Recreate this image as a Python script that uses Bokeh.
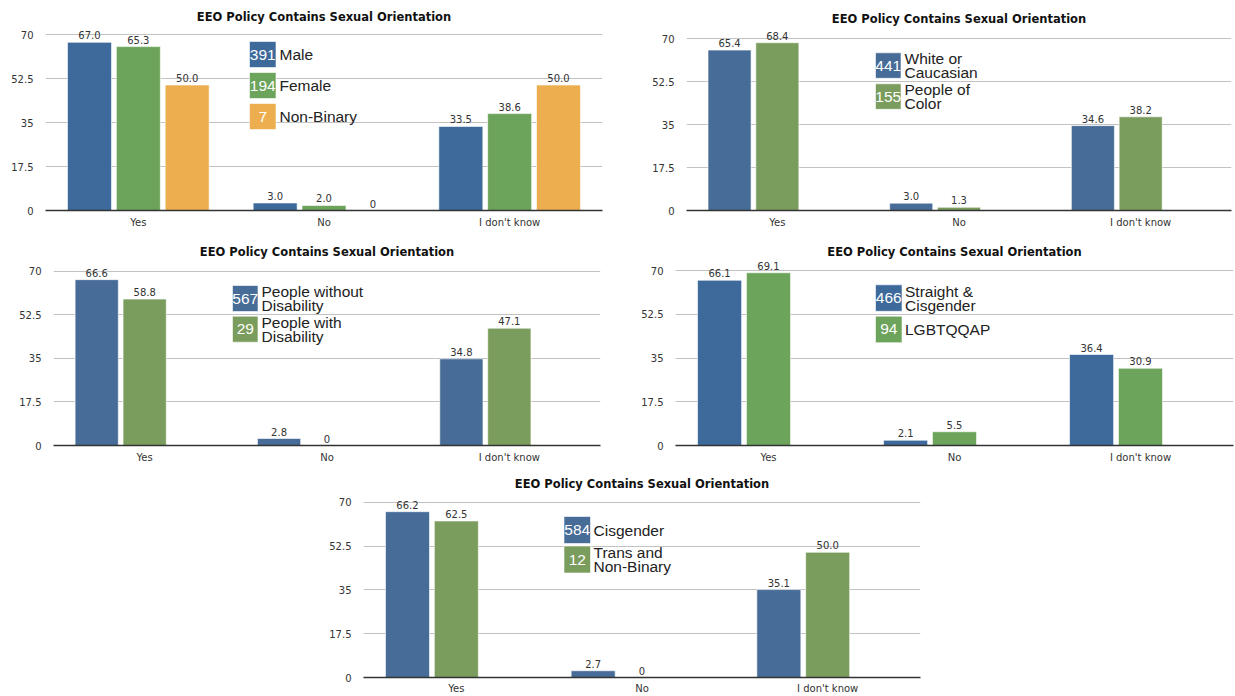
from bokeh.plotting import figure
from bokeh.models import ColumnDataSource, FactorRange, Range1d, FixedTicker, LabelSet, Spacer
from bokeh.layouts import row, column
from bokeh.transform import dodge
from bokeh.core.properties import value
from bokeh.embed import file_html
from bokeh.resources import INLINE

# ---------------- data ----------------
categories = ["Yes", "No", "I don't know"]
y_ticks = [0, 17.5, 35, 52.5, 70]
y_tick_labels = ["0", "17.5", "35", "52.5", "70"]
title_text = "EEO Policy Contains Sexual Orientation"

gender_groups = ["Male", "Female", "Non-Binary"]
gender_counts = [391, 194, 7]
male_values = [67.0, 3.0, 33.5]
female_values = [65.3, 2.0, 38.6]
nonbinary_values = [50.0, 0, 50.0]

race_groups = ["White or\nCaucasian", "People of\nColor"]
race_counts = [441, 155]
white_values = [65.4, 3.0, 34.6]
poc_values = [68.4, 1.3, 38.2]

disability_groups = ["People without\nDisability", "People with\nDisability"]
disability_counts = [567, 29]
without_disability_values = [66.6, 2.8, 34.8]
with_disability_values = [58.8, 0, 47.1]

orientation_groups = ["Straight &\nCisgender", "LGBTQQAP"]
orientation_counts = [466, 94]
straight_cis_values = [66.1, 2.1, 36.4]
lgbtqqap_values = [69.1, 5.5, 30.9]

gi_groups = ["Cisgender", "Trans and\nNon-Binary"]
gi_counts = [584, 12]
cisgender_values = [66.2, 2.7, 35.1]
trans_nb_values = [62.5, 0, 50.0]

# ---------------- styles ----------------
BLUE_A, GREEN_A, ORANGE = "#3d6a9b", "#6ba45a", "#ecae4f"
BLUE_B, GREEN_B = "#466c97", "#7a9c5c"
FONT = "DejaVu Sans"
LEG_FONT = "Liberation Sans"
OFFSETS = [-0.263, 0.0, 0.263]
BAR_W = 0.237


def make_panel(series, groups, counts, colors, g):
    fl, fr = g["frame_x"]
    ft, fb = g["frame_y"]
    ppu_y = (fb - g["y70"]) / 70.0
    ppu_x = (fr - fl) / len(categories)
    y_end = (fb - ft) / ppu_y
    p = figure(x_range=FactorRange(factors=categories, range_padding=0, factor_padding=0),
               y_range=Range1d(0, y_end), width=g["w"], height=g["h"],
               output_backend="svg", toolbar_location=None, title=title_text,
               min_border_left=fl - g["x"], min_border_right=g["x"] + g["w"] - fr,
               min_border_top=ft - g["y"], min_border_bottom=g["y"] + g["h"] - fb)
    p.outline_line_color = None
    p.background_fill_color = "white"
    p.border_fill_color = "white"
    p.title.align = "center"
    p.title.text_font = FONT
    p.title.text_font_size = "11.5px"
    p.title.text_font_style = "bold"
    p.title.text_color = "#111111"
    p.title.standoff = g["tstand"]

    p.xgrid.grid_line_color = None
    p.ygrid.ticker = FixedTicker(ticks=y_ticks)
    p.ygrid.grid_line_color = "#c2c2c2"
    p.yaxis.ticker = FixedTicker(ticks=y_ticks)
    p.yaxis.major_label_overrides = dict(zip(y_ticks, y_tick_labels))
    p.yaxis.axis_line_color = None
    p.yaxis.major_tick_line_color = None
    p.yaxis.minor_tick_line_color = None
    p.yaxis.major_tick_out = 0
    p.yaxis.major_label_standoff = 12
    p.yaxis.major_label_text_font = FONT
    p.yaxis.major_label_text_font_size = "10px"
    p.yaxis.major_label_text_color = "#333333"

    p.xaxis.axis_line_color = "#333333"
    p.xaxis.axis_line_width = 1.5
    p.xaxis.major_tick_line_color = None
    p.xaxis.major_tick_out = 0
    p.xaxis.major_tick_in = 0
    p.xaxis.major_label_standoff = g["xstand"]
    p.xaxis.major_label_text_font = FONT
    p.xaxis.major_label_text_font_size = "10px"
    p.xaxis.major_label_text_color = "#333333"

    n = len(series)
    data = dict(cat=categories)
    for i, vals in enumerate(series):
        data["v%d" % i] = vals
        data["l%d" % i] = [("%.1f" % v) if v else "0" for v in vals]
    src = ColumnDataSource(data)
    for i in range(n):
        x = dodge("cat", OFFSETS[i], range=p.x_range)
        p.vbar(x=x, top="v%d" % i, width=BAR_W, source=src, fill_color=colors[i],
               line_color="white", line_width=1, line_alpha=0.6)
        p.add_layout(LabelSet(x=x, y="v%d" % i, text="l%d" % i, source=src,
                              text_align="center", text_baseline="bottom", y_offset=3,
                              text_font=value(FONT), text_font_size="10px",
                              text_color="#333333"))

    # legend block (count boxes + labels)
    lx, lw, ly, lh, step, gap = g["legend"]
    tops = [ly + i * step for i in range(len(groups))]
    leg = ColumnDataSource(dict(
        left=[(lx - fl) / ppu_x] * len(groups),
        right=[(lx + lw - fl) / ppu_x] * len(groups),
        top=[(fb - t) / ppu_y for t in tops],
        bottom=[(fb - t - lh) / ppu_y for t in tops],
        xc=[(lx + lw / 2 - fl) / ppu_x] * len(groups),
        xt=[(lx + lw + gap - fl) / ppu_x] * len(groups),
        yc=[(fb - t - lh / 2) / ppu_y for t in tops],
        count=[str(c) for c in counts],
        label=groups,
        color=colors[:len(groups)],
    ))
    p.quad(left="left", right="right", top="top", bottom="bottom", source=leg,
           fill_color="color", line_color="white", line_alpha=0.6, line_width=1)
    p.text(x="xc", y="yc", text="count", source=leg, text_align="center",
           text_baseline="middle", text_color="white", text_font=value(LEG_FONT),
           text_font_size="15.5px")
    p.text(x="xt", y="yc", text="label", source=leg, text_align="left",
           text_baseline="middle", text_color="#222222", text_font=value(LEG_FONT),
           text_font_size="15.5px", text_line_height=0.82)
    return p


# frames in the same row share top/bottom borders (Bokeh aligns them)
g1 = dict(x=0, y=0, w=620, h=236, frame_x=(45, 602), frame_y=(27, 210), y70=34.3,
          xstand=6, tstand=7, legend=(249, 26.5, 41, 26, 31, 3.5))
g2 = dict(x=620, y=0, w=615, h=236, frame_x=(686, 1231), frame_y=(27, 210), y70=38.3,
          xstand=6, tstand=3, legend=(875, 25.5, 52.3, 25.5, 31, 3.5))
g3 = dict(x=0, y=236, w=620, h=232, frame_x=(53, 600), frame_y=(259, 445), y70=270.7,
          xstand=6, tstand=2, legend=(232, 25.5, 285, 26, 30.7, 3.5))
g4 = dict(x=620, y=236, w=615, h=232, frame_x=(675, 1233), frame_y=(259, 445), y70=270,
          xstand=6, tstand=2, legend=(875, 26.5, 284.3, 26.5, 31.4, 3))
g5 = dict(x=320, y=468, w=620, h=228, frame_x=(363, 920), frame_y=(491, 677), y70=501.7,
          xstand=5, tstand=2, legend=(563.5, 26.5, 516, 27, 29.5, 3))

p1 = make_panel([male_values, female_values, nonbinary_values], gender_groups, gender_counts,
                [BLUE_A, GREEN_A, ORANGE], g1)
p2 = make_panel([white_values, poc_values], race_groups, race_counts, [BLUE_B, GREEN_B], g2)
p3 = make_panel([without_disability_values, with_disability_values], disability_groups,
                disability_counts, [BLUE_B, GREEN_B], g3)
p4 = make_panel([straight_cis_values, lgbtqqap_values], orientation_groups, orientation_counts,
                [BLUE_A, GREEN_A], g4)
p5 = make_panel([cisgender_values, trans_nb_values], gi_groups, gi_counts, [BLUE_B, GREEN_B], g5)

layout = column(row(p1, p2), row(p3, p4), row(Spacer(width=320, height=228), p5))

open("out.html", "w").write(file_html(layout, INLINE))
